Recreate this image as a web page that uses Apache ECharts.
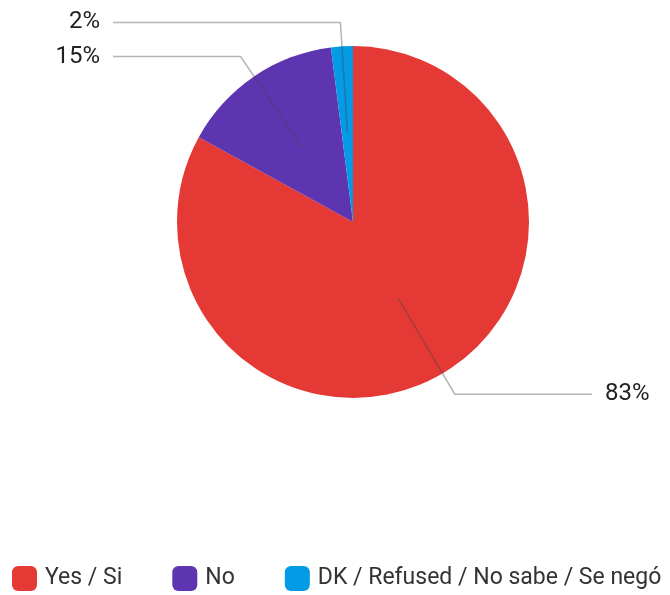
<!DOCTYPE html>
<html>
<head>
<meta charset="utf-8">
<script src="https://cdn.jsdelivr.net/npm/echarts@6.0.0/dist/echarts.min.js"></script>
<style>
  html, body { margin: 0; padding: 0; background: #ffffff; }
  #chart { width: 670px; height: 595px; }
</style>
</head>
<body>
<div id="chart"></div>
<script>
// Survey answers, in percent of respondents
const categories = ['Yes / Si', 'No', 'DK / Refused / No sabe / Se negó'];
const shares = [83, 15, 2];
const sliceColors = ['#e53935', '#5e35b1', '#039be5'];

// Pie geometry (pixels)
const CX = 353, CY = 222;
const R_OUTER = 176;   // visible pie
const R_INNER = 89;    // where the leader lines start
const R_BEND = 200;    // where the leader lines turn horizontal
const EDGE_LEFT = 113, EDGE_RIGHT = 592; // x where the leader lines end

const total = shares.reduce((a, b) => a + b, 0);

// Leader lines run radially from the inner radius to the bend, then
// horizontally to a common edge on each side.
let acc = 0;
const labelItems = categories.map((name, i) => {
  const mid = (acc + shares[i] / 2) / total * 2 * Math.PI; // clockwise from 12 o'clock
  acc += shares[i];
  const dx = Math.sin(mid);
  const bendX = CX + dx * R_BEND;
  const len2 = dx < 0 ? bendX - EDGE_LEFT : EDGE_RIGHT - bendX;
  return {
    name: name,
    value: shares[i],
    labelLine: { length: R_BEND - R_INNER, length2: Math.max(0, len2) }
  };
});

const chart = echarts.init(document.getElementById('chart'), null, { renderer: 'canvas' });

chart.setOption({
  backgroundColor: '#ffffff',
  animation: false,
  textStyle: { fontFamily: 'Roboto' },
  legend: {
    left: 12,
    top: 566,
    width: 656,
    padding: 0,
    itemWidth: 25,
    itemHeight: 25,
    itemGap: 50,
    icon: 'roundRect',
    selectedMode: false,
    data: categories.map((name, i) => ({ name: name, itemStyle: { color: sliceColors[i] } })),
    textStyle: { fontSize: 23, color: '#333333', fontFamily: 'Roboto', padding: [0, 0, 0, 3] }
  },
  series: [
    {
      name: 'answers',
      type: 'pie',
      z: 2,
      center: [CX, CY],
      radius: R_OUTER,
      startAngle: 90,
      clockwise: true,
      label: { show: false },
      labelLine: { show: false },
      itemStyle: { borderWidth: 0 },
      emphasis: { disabled: true },
      data: categories.map((name, i) => ({
        name: name,
        value: shares[i],
        itemStyle: { color: sliceColors[i] }
      }))
    },
    {
      // transparent inner ring that only carries the value labels
      name: 'labels',
      type: 'pie',
      z: 5,
      center: [CX, CY],
      radius: R_INNER,
      startAngle: 90,
      clockwise: true,
      silent: true,
      legendHoverLink: false,
      avoidLabelOverlap: false,
      itemStyle: { color: 'rgba(0,0,0,0)', borderWidth: 0 },
      emphasis: { disabled: true },
      label: {
        show: true,
        position: 'outside',
        formatter: '{c}%',
        fontSize: 24,
        color: '#222222',
        fontFamily: 'Roboto',
        distanceToLabelLine: 13
      },
      labelLine: {
        show: true,
        smooth: false,
        lineStyle: { color: '#444444', opacity: 0.4, width: 1.5 }
      },
      data: labelItems
    }
  ]
});
</script>
</body>
</html>
